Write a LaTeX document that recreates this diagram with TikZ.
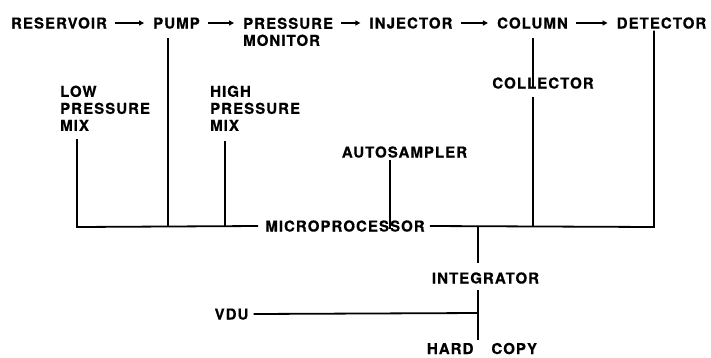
\documentclass[tikz,border=0pt]{standalone}
\usepackage{fontspec}
\setmainfont{TeX Gyre Heros}[LetterSpace=7, BoldFeatures={FakeBold=0.6}]
\usetikzlibrary{arrows.meta}
\begin{document}
\begin{tikzpicture}[x=1pt,y=-1pt,
  txt/.style={font=\bfseries\fontsize{15}{17}\selectfont, inner sep=0pt},
  lbl/.style={txt, text height=11pt, text depth=0pt},
  mlbl/.style={txt, align=left, anchor=north west},
  flow/.style={line width=1.3pt, -{Triangle[length=5pt,width=5pt]}, shorten <=8pt, shorten >=9pt},
  wire/.style={line width=1.8pt}]
\useasboundingbox (0,0) rectangle (711,357);
% top row
\node[lbl] (res) at (59,23) {RESERVOIR};
\node[lbl] (pump) at (176.5,23) {PUMP};
\node[mlbl] (pm) at (243,17.5) {PRESSURE\\MONITOR};
\node[lbl] (inj) at (411,23) {INJECTOR};
\node[lbl] (col) at (532.5,23) {COLUMN};
\node[lbl] (det) at (661.5,23) {DETECTOR};
% others
\node[mlbl] (low) at (60,85.5) {LOW\\PRESSURE\\MIX};
\node[mlbl] (high) at (210,85.5) {HIGH\\PRESSURE\\MIX};
\node[lbl] (coll) at (543,83) {COLLECTOR};
\node[lbl] (auto) at (404.5,152) {AUTOSAMPLER};
\node[lbl] (mp) at (345,226) {MICROPROCESSOR};
\node[lbl] (int) at (485.5,278) {INTEGRATOR};
\node[lbl] (vdu) at (231.5,314) {VDU};
\node[lbl] (hc) at (482,348.5) {HARD\hspace{1.2em}COPY};
% x positions of wires
\coordinate (lowx) at (77,227);
\coordinate (pumpx) at (168,227);
\coordinate (highx) at (225,227);
\coordinate (autox) at (390,227);
\coordinate (intx) at (478,227);
\coordinate (colx) at (533,227);
\coordinate (detx) at (654,227);
\coordinate (vduj) at (478,313);
% flow arrows
\draw[flow] (res) -- (pump);
\draw[flow] (pump) -- (pump -| pm.west);
\draw[flow] (pm.east |- inj) -- (inj);
\draw[flow] (inj) -- (col);
\draw[flow] (col) -- (det);
% bus
\draw[wire] (lowx |- low.south) ++(0,8) -- (lowx) -- ([xshift=-7pt]mp.west);
\draw[wire] ([xshift=5pt]mp.east) -- (detx) -- ([yshift=-2pt]detx |- det.south);
\draw[wire] (pumpx |- pump.south) ++(0,9.5) -- (pumpx);
\draw[wire] (highx |- high.south) ++(0,10) -- (highx);
\draw[wire] (colx |- col.south) ++(0,9.5) -- ([yshift=-10pt]colx |- coll.north);
\draw[wire] (colx |- coll.south) ++(0,8.5) -- (colx);
\draw[wire] (autox |- auto.south) ++(0,2.5) -- ([yshift=-8.5pt]autox |- mp.north);
\draw[wire] (intx) -- ([yshift=9.5pt]intx |- int.north);
\draw[wire] (intx |- int.south) ++(0,6.5) -- ([yshift=3pt]intx |- hc.north);
\draw[wire] ([xshift=5pt]vdu.east) -- (vduj);
\end{tikzpicture}
\end{document}
